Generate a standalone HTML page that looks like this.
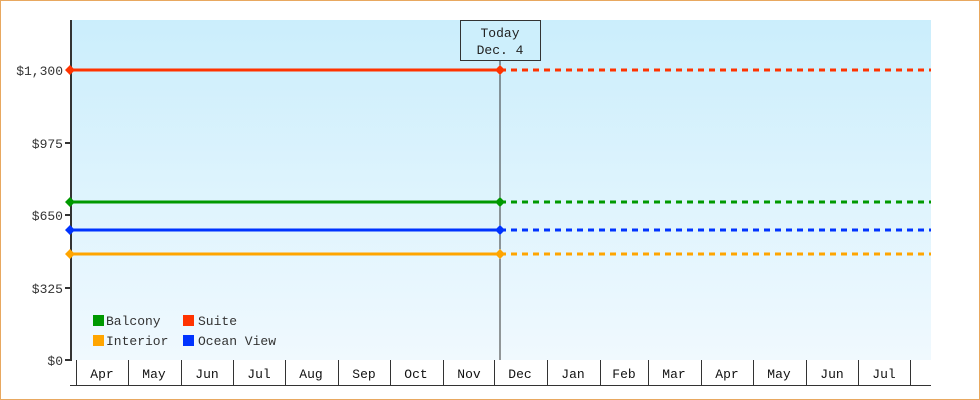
<!DOCTYPE html>
<html><head><style>body{margin:0;background:#fff}svg{display:block}</style></head><body>
<svg width="980" height="400" xmlns="http://www.w3.org/2000/svg" font-family="Liberation Mono, monospace" font-size="13" fill="#222">
<defs><linearGradient id="g" x1="0" y1="0" x2="0" y2="1"><stop offset="0" stop-color="#cbeefc"/><stop offset="1" stop-color="#f0f9fe"/></linearGradient></defs>
<rect x="0.5" y="0.5" width="979" height="399" fill="#fff" stroke="#e8a860"/>
<rect x="71" y="20" width="860" height="340" fill="url(#g)"/>
<g stroke-width="3">
<line x1="71" y1="70" x2="500" y2="70" stroke="#ff3300"/>
<line x1="500" y1="70" x2="931" y2="70" stroke="#ff3300" stroke-dasharray="6,5"/>
<line x1="71" y1="202" x2="500" y2="202" stroke="#009900"/>
<line x1="500" y1="202" x2="931" y2="202" stroke="#009900" stroke-dasharray="6,5"/>
<line x1="71" y1="230" x2="500" y2="230" stroke="#0033ff"/>
<line x1="500" y1="230" x2="931" y2="230" stroke="#0033ff" stroke-dasharray="6,5"/>
<line x1="71" y1="254" x2="500" y2="254" stroke="#ffa500"/>
<line x1="500" y1="254" x2="931" y2="254" stroke="#ffa500" stroke-dasharray="6,5"/>
</g>
<line x1="500" y1="60" x2="500" y2="360" stroke="#333"/>
<rect x="460.5" y="20.5" width="80" height="40" fill="#cdeffc" stroke="#333"/>
<text x="500" y="37" text-anchor="middle">Today</text>
<text x="500" y="54" text-anchor="middle">Dec. 4</text>
<line x1="71" y1="20" x2="71" y2="361" stroke="#333" stroke-width="2"/>
<g>
<path d="M70 65l5 5-5 5-5-5z M500 65l5 5-5 5-5-5z" fill="#ff3300"/>
<path d="M70 197l5 5-5 5-5-5z M500 197l5 5-5 5-5-5z" fill="#009900"/>
<path d="M70 225l5 5-5 5-5-5z M500 225l5 5-5 5-5-5z" fill="#0033ff"/>
<path d="M70 249l5 5-5 5-5-5z M500 249l5 5-5 5-5-5z" fill="#ffa500"/>
</g>
<g stroke="#333" stroke-width="2">
<line x1="65" y1="143" x2="71" y2="143"/><line x1="65" y1="215" x2="71" y2="215"/><line x1="65" y1="288" x2="71" y2="288"/><line x1="65" y1="360" x2="71" y2="360"/>
</g>
<g text-anchor="end" fill="#333">
<text x="63" y="75">$1,300</text><text x="63" y="148">$975</text><text x="63" y="220">$650</text><text x="63" y="293">$325</text><text x="63" y="365">$0</text>
</g>
<g stroke="#333">
<line x1="70" y1="385.5" x2="931" y2="385.5"/>
<path d="M76.5 360v25M128.5 360v25M181.5 360v25M233.5 360v25M285.5 360v25M338.5 360v25M390.5 360v25M443.5 360v25M494.5 360v25M547.5 360v25M600.5 360v25M648.5 360v25M701.5 360v25M753.5 360v25M806.5 360v25M858.5 360v25M910.5 360v25"/>
</g>
<g text-anchor="middle" fill="#111">
<text x="102" y="378">Apr</text><text x="154" y="378">May</text><text x="207" y="378">Jun</text><text x="259" y="378">Jul</text><text x="311" y="378">Aug</text><text x="364" y="378">Sep</text><text x="416" y="378">Oct</text><text x="469" y="378">Nov</text><text x="520" y="378">Dec</text><text x="573" y="378">Jan</text><text x="624" y="378">Feb</text><text x="674" y="378">Mar</text><text x="727" y="378">Apr</text><text x="779" y="378">May</text><text x="832" y="378">Jun</text><text x="884" y="378">Jul</text>
</g>
<rect x="93" y="315" width="11" height="11" fill="#009900"/><text x="106" y="325" fill="#333">Balcony</text>
<rect x="183" y="315" width="11" height="11" fill="#ff3300"/><text x="198" y="325" fill="#333">Suite</text>
<rect x="93" y="335" width="11" height="11" fill="#ffa500"/><text x="106" y="345" fill="#333">Interior</text>
<rect x="183" y="335" width="11" height="11" fill="#0033ff"/><text x="198" y="345" fill="#333">Ocean View</text>
</svg>
</body></html>
